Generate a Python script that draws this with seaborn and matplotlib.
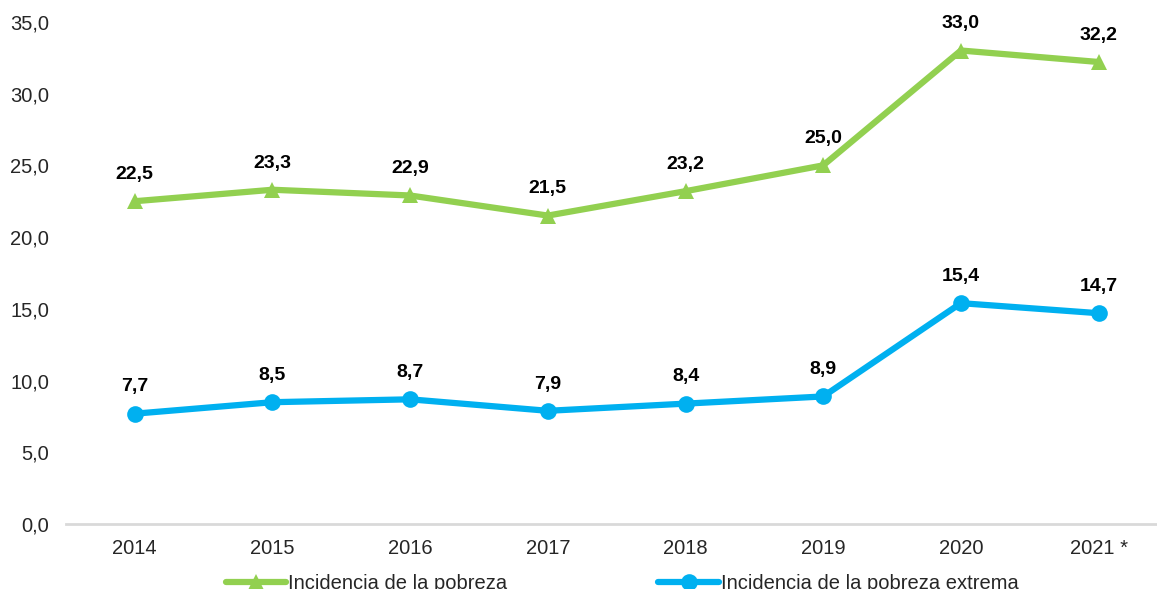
import pandas as pd
import numpy as np
import matplotlib.pyplot as plt
import seaborn as sns

years = ['2014', '2015', '2016', '2017', '2018', '2019', '2020', '2021 *']
pobreza = [22.5, 23.3, 22.9, 21.5, 23.2, 25.0, 33.0, 32.2]
pobreza_extrema = [7.7, 8.5, 8.7, 7.9, 8.4, 8.9, 15.4, 14.7]
yticks = [0, 5, 10, 15, 20, 25, 30, 35]

sns.set_theme(style='white')
plt.rcParams['font.family'] = ['Liberation Sans', 'DejaVu Sans']

df = pd.DataFrame({'x': np.arange(len(years)), 'pobreza': pobreza, 'extrema': pobreza_extrema})

fig, ax = plt.subplots(figsize=(11.57, 5.89), dpi=100)
fig.subplots_adjust(left=0.057, right=1.009, top=0.963, bottom=0.11)

sns.lineplot(data=df, x='x', y='pobreza', ax=ax, color='#92D050', linewidth=4.5,
             marker='^', markersize=12, markeredgewidth=0, label='Incidencia de la pobreza')
sns.lineplot(data=df, x='x', y='extrema', ax=ax, color='#00B0F0', linewidth=4.5,
             marker='o', markersize=12, markeredgewidth=0, label='Incidencia de la pobreza extrema')

for i in range(len(years)):
    ax.annotate(f'{pobreza[i]:.1f}'.replace('.', ','), (i, pobreza[i]), xytext=(0, 16),
                textcoords='offset points', ha='center', fontsize=14, fontweight='bold', color='black')
    ax.annotate(f'{pobreza_extrema[i]:.1f}'.replace('.', ','), (i, pobreza_extrema[i]), xytext=(0, 16),
                textcoords='offset points', ha='center', fontsize=14, fontweight='bold', color='black')

ax.set_xlim(-0.5, 7.5)
ax.set_ylim(0, 35)
ax.set_xticks(range(len(years)))
ax.set_xticklabels(years, fontsize=14.5, color='#262626')
ax.set_yticks(yticks)
ax.set_yticklabels([f'{v:.1f}'.replace('.', ',') for v in yticks], fontsize=14.5, color='#262626')
ax.tick_params(axis='x', length=0, pad=11)
ax.tick_params(axis='y', length=0, pad=12)
ax.set_xlabel('')
ax.set_ylabel('')

for s in ['top', 'right', 'left']:
    ax.spines[s].set_visible(False)
ax.spines['bottom'].set_color('#d9d9d9')
ax.spines['bottom'].set_linewidth(2)

ax.legend(loc='upper center', bbox_to_anchor=(0.505, -0.064), ncol=2, frameon=False,
          fontsize=14.5, handlelength=3.0, handletextpad=0.1, columnspacing=7.5,
          labelcolor='#262626')

plt.savefig('out.png', dpi=100)
